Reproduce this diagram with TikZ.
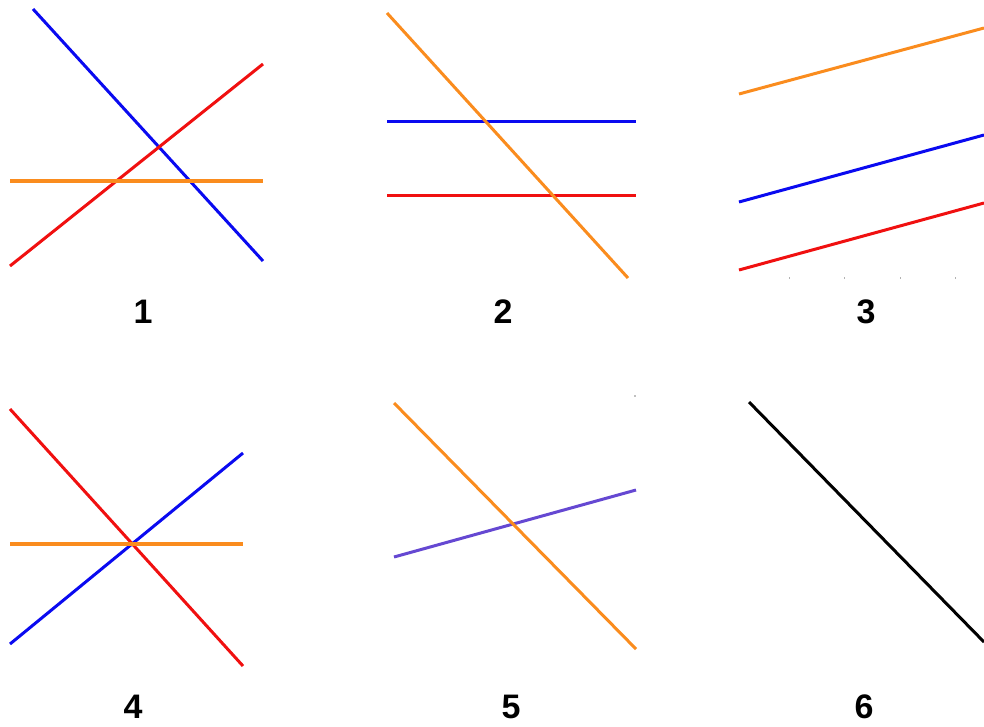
\documentclass[tikz,border=0pt]{standalone}
\usepackage{fontspec}
\setmainfont{Liberation Sans}
\definecolor{lblue}{HTML}{0A0AF0}
\definecolor{lred}{HTML}{F01010}
\definecolor{lorange}{HTML}{FA8C1E}
\definecolor{lpurple}{HTML}{6548D2}
\tikzset{
  ln/.style={line width=3pt},
  lnh/.style={line width=4pt},
  num/.style={font=\fontsize{34}{34}\selectfont\bfseries, inner sep=0pt, anchor=center},
  tick/.style={draw=gray!60, line width=0.8pt}
}
\begin{document}
\begin{tikzpicture}[x=1pt,y=-1pt]
\useasboundingbox (0,0) rectangle (984,726);
% panel 1
\coordinate (b1a) at (33,9);   \coordinate (b1b) at (263,261);
\coordinate (r1a) at (10,266); \coordinate (r1b) at (263,64);
\coordinate (o1a) at (10,181); \coordinate (o1b) at (263,181);
\draw[ln, lblue] (b1a) -- (b1b);
\draw[ln, lred] (r1a) -- (r1b);
\draw[lnh, lorange] (o1a) -- (o1b);
% panel 2
\coordinate (o2a) at (387,13);  \coordinate (o2b) at (628,278);
\coordinate (b2a) at (387,121); \coordinate (b2b) at (636,121);
\coordinate (r2a) at (387,195); \coordinate (r2b) at (636,195);
\draw[ln, lblue] (b2a) -- (b2b);
\draw[ln, lred] (r2a) -- (r2b);
\draw[ln, lorange] (o2a) -- (o2b);
% panel 3
\coordinate (o3a) at (739,94);  \coordinate (o3b) at (984,28);
\coordinate (b3a) at (739,202); \coordinate (b3b) at (984,135);
\coordinate (r3a) at (739,270); \coordinate (r3b) at (984,203);
\draw[ln, lorange] (o3a) -- (o3b);
\draw[ln, lblue] (b3a) -- (b3b);
\draw[ln, lred] (r3a) -- (r3b);
\foreach \x in {789,844,900,955} \draw[tick] (\x,277) -- (\x,279);
% panel 4
\coordinate (r4a) at (10,409);  \coordinate (r4b) at (243,666);
\coordinate (b4a) at (10,644);  \coordinate (b4b) at (243,453);
\coordinate (o4a) at (10,544);  \coordinate (o4b) at (243,544);
\draw[ln, lred] (r4a) -- (r4b);
\draw[ln, lblue] (b4a) -- (b4b);
\draw[lnh, lorange] (o4a) -- (o4b);
% panel 5
\coordinate (o5a) at (394,403); \coordinate (o5b) at (636,649);
\coordinate (p5a) at (394,557); \coordinate (p5b) at (636,490);
\draw[ln, lpurple] (p5a) -- (p5b);
\draw[ln, lorange] (o5a) -- (o5b);
\fill[gray] (635,396) circle (0.8);
% panel 6
\coordinate (k6a) at (749,402); \coordinate (k6b) at (984,642);
\draw[ln, black] (k6a) -- (k6b);
% labels
\node[num] (n1) at (143,312) {1};
\node[num] (n2) at (503,312) {2};
\node[num] (n3) at (866,312) {3};
\node[num] (n4) at (133,707) {4};
\node[num] (n5) at (511,707) {5};
\node[num] (n6) at (864,707) {6};
\end{tikzpicture}
\end{document}
